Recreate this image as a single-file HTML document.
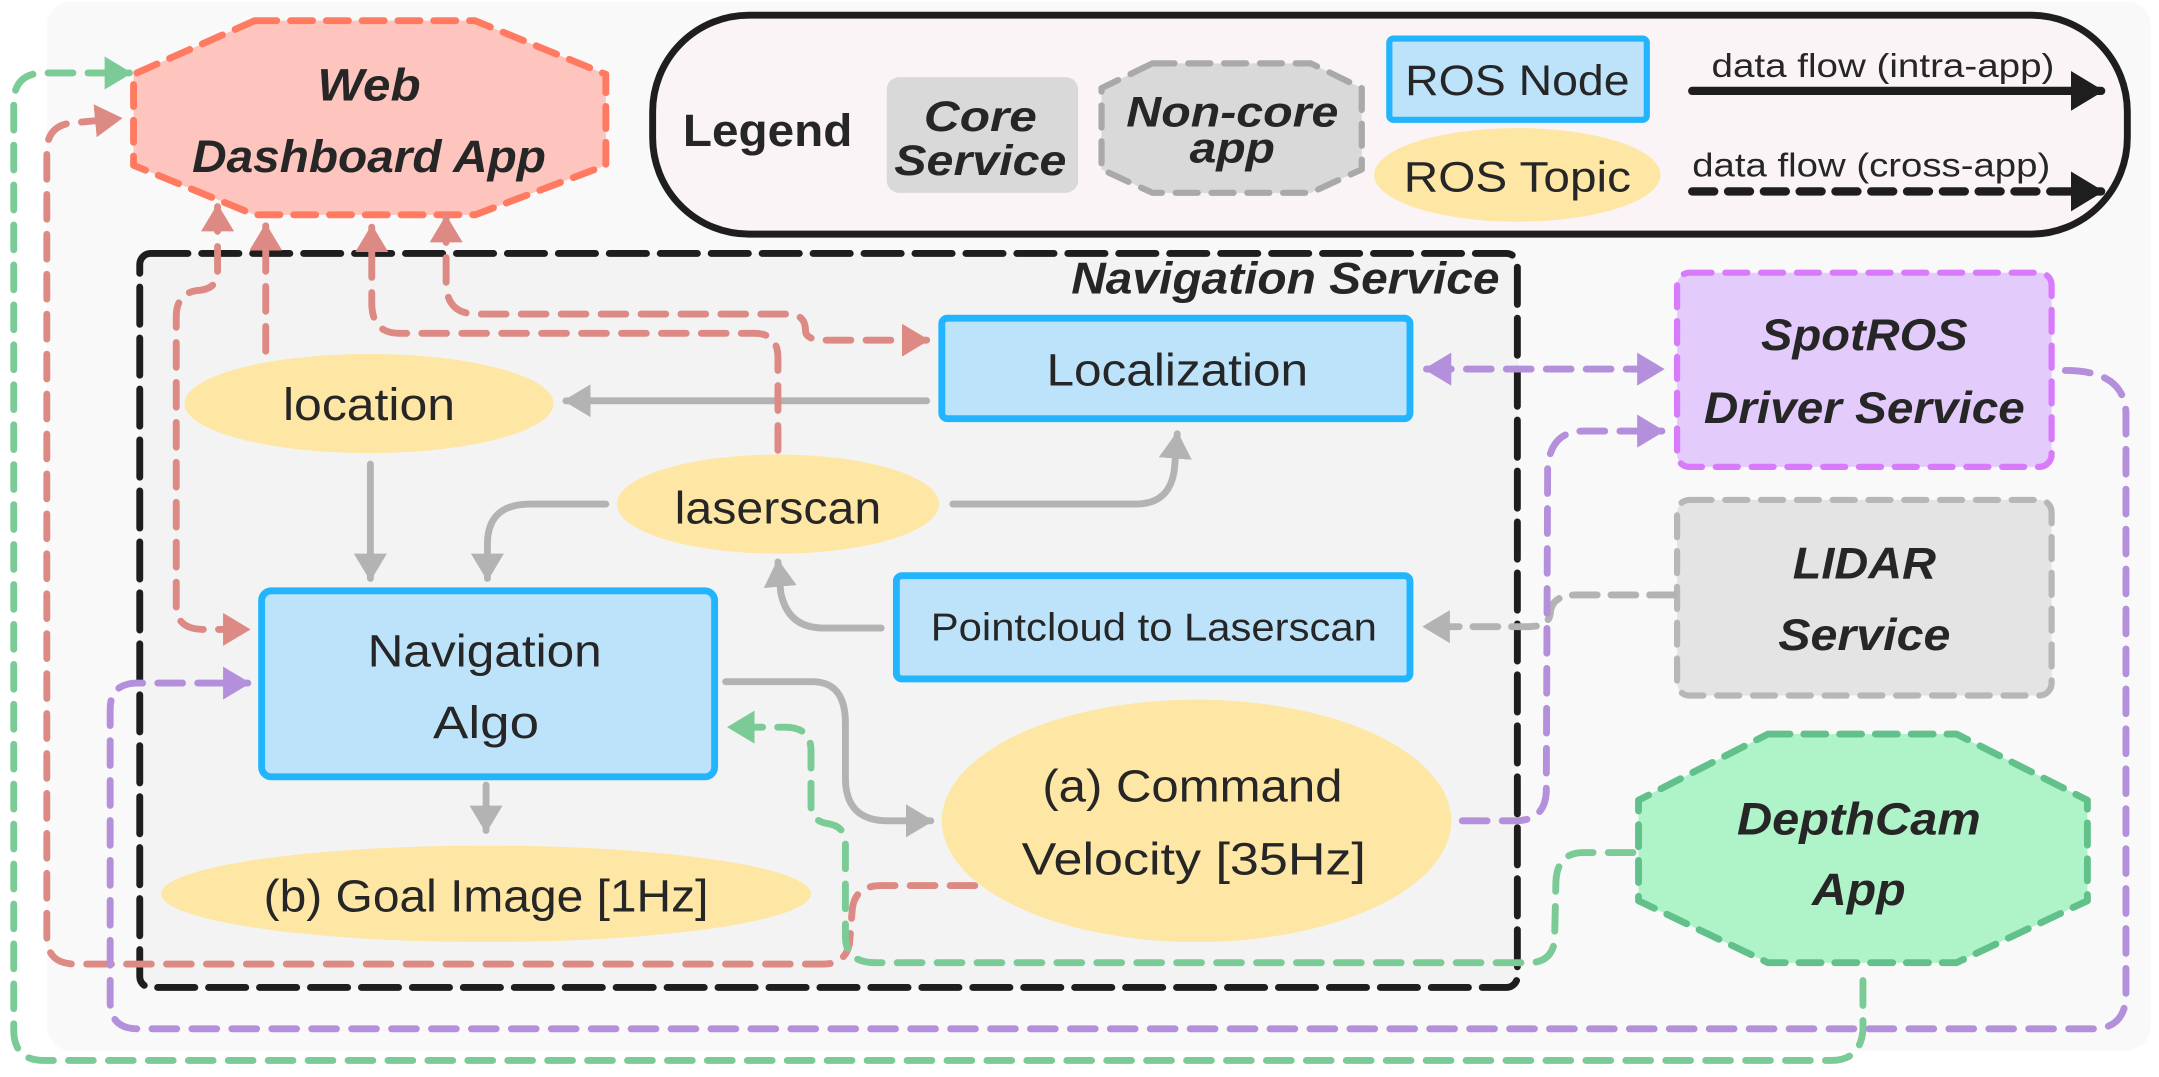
<!DOCTYPE html>
<html><head><meta charset="utf-8"><style>
html,body{margin:0;padding:0;background:#fff;}
svg{display:block;}
text{font-family:"Liberation Sans",sans-serif;fill:#262626;}
.bi{font-weight:bold;font-style:italic;}
</style></head><body>
<svg width="2159" height="1077" viewBox="0 0 1568 782" preserveAspectRatio="none" xmlns="http://www.w3.org/2000/svg">
<defs>
<marker id="mg" viewBox="0 0 20 24" refX="18" refY="12" markerWidth="20" markerHeight="24" markerUnits="userSpaceOnUse" orient="auto-start-reverse"><path d="M0,0 L20,12 L0,24 z" fill="#b3b3b3"/></marker>
<marker id="mr" viewBox="0 0 20 24" refX="18" refY="12" markerWidth="20" markerHeight="26" markerUnits="userSpaceOnUse" orient="auto-start-reverse"><path d="M0,0 L20,12 L0,24 z" fill="#dd8a84"/></marker>
<marker id="mgr" viewBox="0 0 20 24" refX="18" refY="12" markerWidth="20" markerHeight="26" markerUnits="userSpaceOnUse" orient="auto-start-reverse"><path d="M0,0 L20,12 L0,24 z" fill="#7acb95"/></marker>
<marker id="mp" viewBox="0 0 20 24" refX="18" refY="12" markerWidth="20" markerHeight="26" markerUnits="userSpaceOnUse" orient="auto-start-reverse"><path d="M0,0 L20,12 L0,24 z" fill="#b48fdb"/></marker>
<marker id="mk" viewBox="0 0 24 29" refX="22" refY="14.5" markerWidth="24" markerHeight="29" markerUnits="userSpaceOnUse" orient="auto"><path d="M0,0 L24,14.5 L0,29 z" fill="#1e1e1e"/></marker>
</defs>

<rect x="34" y="1" width="1528" height="762" rx="18" fill="#f9f9f9"/>

<rect x="101.5" y="184" width="1000.5" height="533" rx="8" fill="#f3f3f3" stroke="#1e1e1e" stroke-width="5" stroke-dasharray="27 10" stroke-linecap="round"/>
<text x="1089" y="213" font-size="32" class="bi" text-anchor="end" textLength="311" lengthAdjust="spacingAndGlyphs">Navigation Service</text>

<!-- Legend -->
<rect x="474" y="11" width="1071" height="159" rx="70" fill="#faf4f7" stroke="#1e1e1e" stroke-width="5"/>
<text x="496" y="106" font-size="33" font-weight="bold" textLength="123" lengthAdjust="spacingAndGlyphs">Legend</text>
<rect x="644" y="56" width="139" height="84" rx="9" fill="#d9d9d9"/>
<text x="712" y="95" font-size="31" class="bi" text-anchor="middle" textLength="82" lengthAdjust="spacingAndGlyphs">Core</text>
<text x="712" y="127" font-size="31" class="bi" text-anchor="middle" textLength="125" lengthAdjust="spacingAndGlyphs">Service</text>
<polygon points="837,46 952,46 989,64 989,123 952,140 837,140 800,123 800,64" fill="#d9d9d9" stroke="#a9a9a9" stroke-width="4.5" stroke-dasharray="16 10" stroke-linejoin="round" stroke-linecap="round"/>
<text x="895" y="92" font-size="31" class="bi" text-anchor="middle" textLength="154" lengthAdjust="spacingAndGlyphs">Non-core</text>
<text x="895" y="118" font-size="31" class="bi" text-anchor="middle" textLength="62" lengthAdjust="spacingAndGlyphs">app</text>
<rect x="1009" y="28" width="187" height="59" rx="3" fill="#bde3fb" stroke="#22b5fe" stroke-width="4.5"/>
<text x="1102" y="69" font-size="31" text-anchor="middle" textLength="163" lengthAdjust="spacingAndGlyphs">ROS Node</text>
<ellipse cx="1102" cy="127" rx="104" ry="34" fill="#fee6a5"/>
<text x="1102" y="139" font-size="31" text-anchor="middle" textLength="165" lengthAdjust="spacingAndGlyphs">ROS Topic</text>
<text x="1243" y="56" font-size="24" textLength="249" lengthAdjust="spacingAndGlyphs">data flow (intra-app)</text>
<line x1="1229" y1="66" x2="1526" y2="66" stroke="#1e1e1e" stroke-width="6" stroke-linecap="round" marker-end="url(#mk)"/>
<text x="1229" y="128" font-size="24" textLength="260" lengthAdjust="spacingAndGlyphs">data flow (cross-app)</text>
<line x1="1229" y1="139" x2="1526" y2="139" stroke="#1e1e1e" stroke-width="6" stroke-linecap="round" stroke-dasharray="16 10" marker-end="url(#mk)"/>

<!-- Web dashboard -->
<polygon points="185,15 345,15 440,54 440,120 345,156 185,156 97,120 97,54" fill="#fdc5be" stroke="#ff7a61" stroke-width="5" stroke-dasharray="16 10" stroke-linejoin="round" stroke-linecap="round"/>
<text x="268" y="73" font-size="33" class="bi" text-anchor="middle" textLength="75" lengthAdjust="spacingAndGlyphs">Web</text>
<text x="268" y="125" font-size="33" class="bi" text-anchor="middle" textLength="257" lengthAdjust="spacingAndGlyphs">Dashboard App</text>

<!-- SpotROS -->
<rect x="1218" y="198" width="272" height="141" rx="9" fill="#e3cbfc" stroke="#d97afb" stroke-width="4.5" stroke-dasharray="16 10" stroke-linecap="round"/>
<text x="1354" y="254" font-size="32" class="bi" text-anchor="middle" textLength="150" lengthAdjust="spacingAndGlyphs">SpotROS</text>
<text x="1354" y="307" font-size="32" class="bi" text-anchor="middle" textLength="233" lengthAdjust="spacingAndGlyphs">Driver Service</text>
<!-- LIDAR -->
<rect x="1218" y="363" width="272" height="142" rx="9" fill="#e4e4e4" stroke="#b9b6b6" stroke-width="4.5" stroke-dasharray="16 10" stroke-linecap="round"/>
<text x="1354" y="420" font-size="32" class="bi" text-anchor="middle" textLength="104" lengthAdjust="spacingAndGlyphs">LIDAR</text>
<text x="1354" y="472" font-size="32" class="bi" text-anchor="middle" textLength="125" lengthAdjust="spacingAndGlyphs">Service</text>
<!-- DepthCam -->
<polygon points="1284,533 1421,533 1516,581 1516,654 1421,699 1284,699 1190,654 1190,581" fill="#aef4c8" stroke="#62c18a" stroke-width="5" stroke-dasharray="16 10" stroke-linejoin="round" stroke-linecap="round"/>
<text x="1350" y="606" font-size="33" class="bi" text-anchor="middle" textLength="177" lengthAdjust="spacingAndGlyphs">DepthCam</text>
<text x="1350" y="657" font-size="33" class="bi" text-anchor="middle" textLength="68" lengthAdjust="spacingAndGlyphs">App</text>

<!-- nodes -->
<rect x="684" y="231" width="340" height="73" rx="4" fill="#bde3fb" stroke="#22b5fe" stroke-width="5"/>
<text x="855" y="280" font-size="33" text-anchor="middle" textLength="190" lengthAdjust="spacingAndGlyphs">Localization</text>
<ellipse cx="268" cy="293" rx="134" ry="36" fill="#fee6a5"/>
<text x="268" y="305" font-size="33" text-anchor="middle" textLength="125" lengthAdjust="spacingAndGlyphs">location</text>
<ellipse cx="565" cy="366" rx="117" ry="36" fill="#fee6a5"/>
<text x="565" y="380" font-size="33" text-anchor="middle" textLength="150" lengthAdjust="spacingAndGlyphs">laserscan</text>
<rect x="651" y="418" width="373" height="75" rx="4" fill="#bde3fb" stroke="#22b5fe" stroke-width="5"/>
<text x="838" y="465" font-size="28" text-anchor="middle" textLength="324" lengthAdjust="spacingAndGlyphs">Pointcloud to Laserscan</text>
<rect x="190" y="429" width="329" height="135" rx="7" fill="#bde3fb" stroke="#22b5fe" stroke-width="5"/>
<text x="352" y="484" font-size="33" text-anchor="middle" textLength="170" lengthAdjust="spacingAndGlyphs">Navigation</text>
<text x="353" y="536" font-size="33" text-anchor="middle" textLength="77" lengthAdjust="spacingAndGlyphs">Algo</text>
<ellipse cx="353" cy="649" rx="236" ry="35" fill="#fee6a5"/>
<text x="353" y="662" font-size="33" text-anchor="middle" textLength="323" lengthAdjust="spacingAndGlyphs">(b) Goal Image [1Hz]</text>
<ellipse cx="869" cy="596" rx="185" ry="88" fill="#fee6a5"/>
<text x="866" y="582" font-size="33" text-anchor="middle" textLength="218" lengthAdjust="spacingAndGlyphs">(a) Command</text>
<text x="867" y="635" font-size="33" text-anchor="middle" textLength="250" lengthAdjust="spacingAndGlyphs">Velocity [35Hz]</text>

<!-- gray connectors -->
<g fill="none" stroke="#b3b3b3" stroke-width="5" stroke-linecap="round">
<path d="M673,291 L411,291" marker-end="url(#mg)"/>
<path d="M269,337 L269,420" marker-end="url(#mg)"/>
<path d="M440,366 L385,366 Q354,366 354,395 L354,420" marker-end="url(#mg)"/>
<path d="M692,366 L825,366 Q850,366 853,340 L855,315" marker-end="url(#mg)"/>
<path d="M640,456 L598,456 Q572,456 567,430 L565,408" marker-end="url(#mg)"/>
<path d="M1216,432 L1145,432 Q1127,432 1126,445 Q1125,455 1110,455 L1035,455" stroke-dasharray="18 10" marker-end="url(#mg)"/>
<path d="M527,495 L590,495 Q614,495 614,525 L614,565 Q614,596 645,596 L676,596" marker-end="url(#mg)"/>
<path d="M353,570 L353,603" marker-end="url(#mg)"/>
</g>

<!-- red connectors -->
<g fill="none" stroke="#dd8a84" stroke-width="5" stroke-linecap="round" stroke-dasharray="18 11">
<path d="M193,255 L193,164" marker-end="url(#mr)"/>
<path d="M158,150 L158,198 Q158,210 143,211 Q128,213 128,230 L128,440 Q128,457 148,457 L180,457" marker-start="url(#mr)" marker-end="url(#mr)"/>
<path d="M565,327 L565,260 Q565,242 548,242 L290,242 Q270,242 270,220 L270,165" marker-end="url(#mr)"/>
<path d="M324,158 L324,205 Q324,228 346,228 L572,228 Q585,228 585,240 Q585,247 600,247 L673,247" marker-start="url(#mr)" marker-end="url(#mr)"/>
<path d="M708,643 L640,643 Q621,643 619,660 L617,685 Q614,700 598,700 L55,700 Q34,700 34,680 L34,110 Q34,90 55,89 L87,86" marker-end="url(#mr)"/>
</g>

<!-- green connectors -->
<g fill="none" stroke="#7acb95" stroke-width="5" stroke-linecap="round" stroke-dasharray="18 11">
<path d="M1353,712 L1353,748 Q1351,770 1330,770 L32,770 Q10,770 10,748 L10,75 Q10,53 32,53 L94,53" marker-end="url(#mgr)"/>
<path d="M1186,619 L1150,619 Q1131,619 1130,640 L1129,683 Q1127,699 1110,699 L636,699 Q614,699 614,680 L614,612 Q614,600 601,598 Q589,596 589,585 L589,545 Q589,528 570,528 L530,528" marker-end="url(#mgr)"/>
</g>

<!-- purple connectors -->
<g fill="none" stroke="#b48fdb" stroke-width="5" stroke-linecap="round" stroke-dasharray="18 11">
<path d="M1036,268 L1207,268" marker-start="url(#mp)" marker-end="url(#mp)"/>
<path d="M1062,596 L1100,596 Q1122,596 1123,575 L1124,340 Q1126,313 1150,313 L1207,313" marker-end="url(#mp)"/>
<path d="M1500,269 Q1543,269 1544,300 L1544,725 Q1542,747 1520,747 L100,747 Q80,747 80,727 L80,515 Q80,496 100,496 L180,496" marker-end="url(#mp)"/>
</g>
</svg>
</body></html>
